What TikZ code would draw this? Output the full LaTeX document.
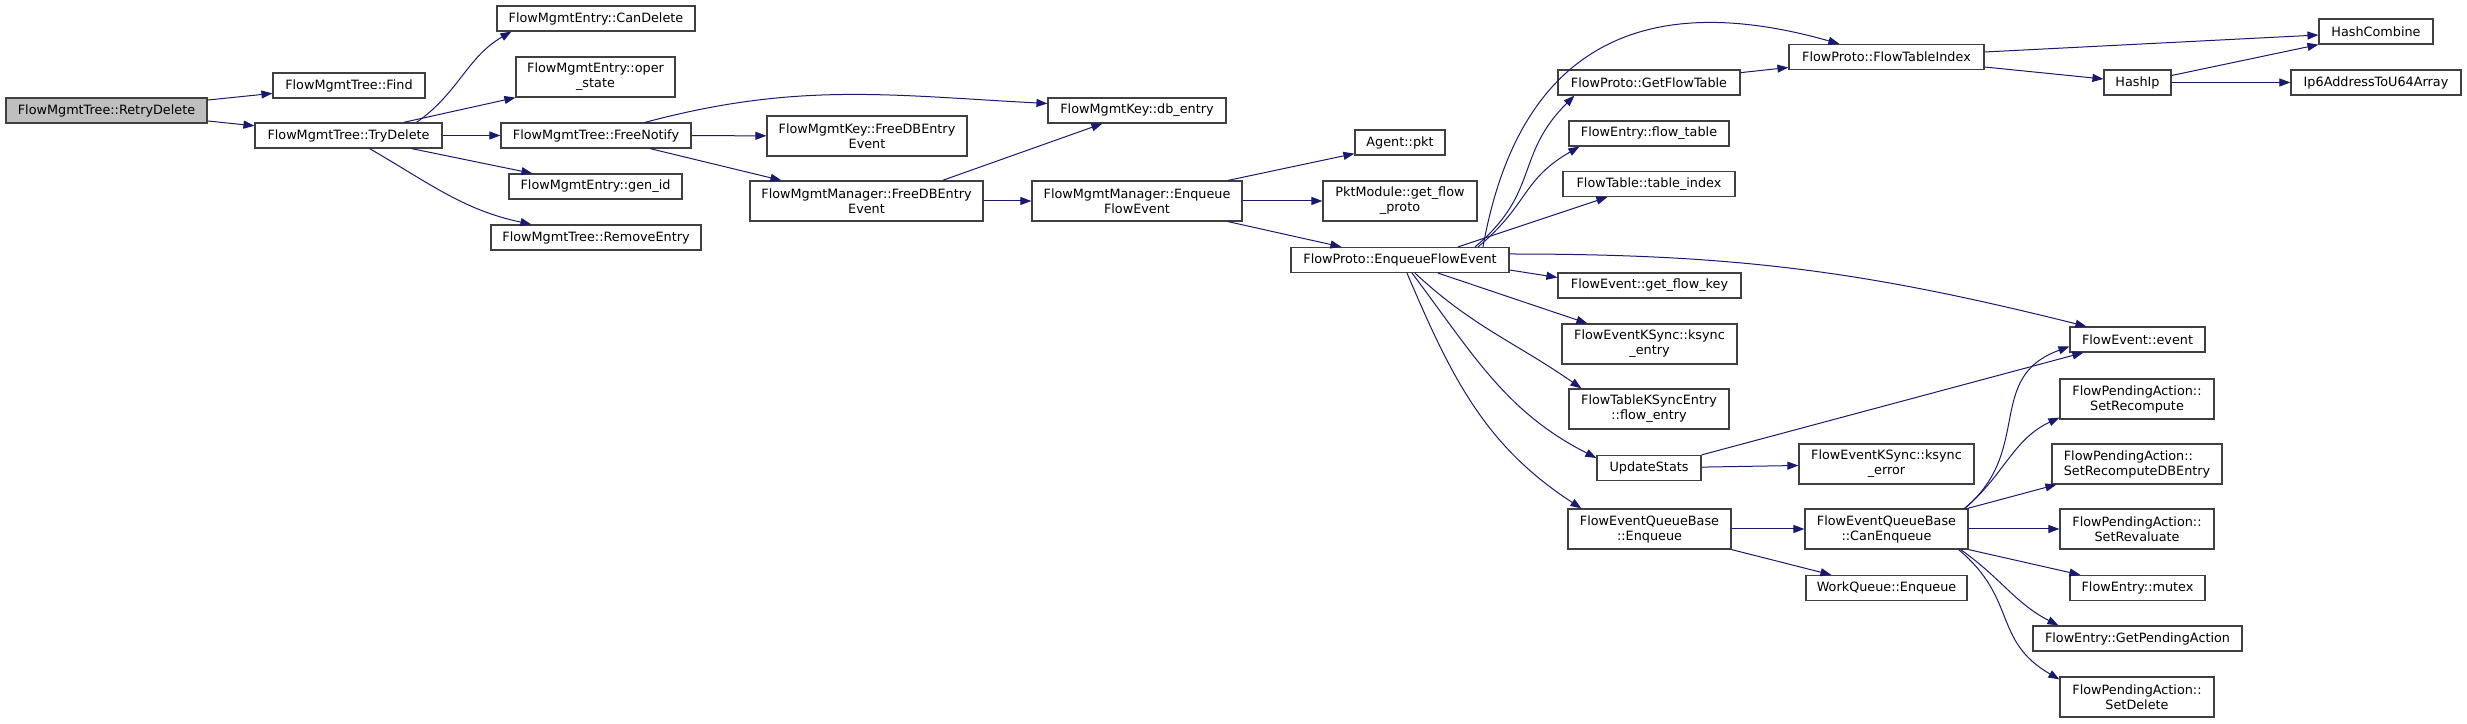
\documentclass[tikz,border=0pt]{standalone}
\usepackage{fontspec}
\setmainfont{DejaVu Sans}
\usetikzlibrary{arrows.meta}
\definecolor{edgeblue}{RGB}{25,25,112}
\definecolor{rootgray}{RGB}{191,191,191}
\definecolor{boxline}{RGB}{64,64,64}

\begin{document}
\begin{tikzpicture}[x=1pt,y=1pt,
  fn/.style={draw=boxline, line width=1.2pt, fill=white, inner sep=0pt,
    minimum height=25pt, align=center, font=\fontsize{12.8}{15}\selectfont},
  two/.style={minimum height=40pt},
  call/.style={draw=edgeblue, line width=1pt, -{Triangle[length=11pt,width=8pt]}}]
  \useasboundingbox (0,0) rectangle (2467,723);

  \node[fn, fill=rootgray, minimum width=201pt] (retry) at (106.5,612.5) {FlowMgmtTree::RetryDelete};
  \node[fn, minimum width=152pt] (find) at (349,637.5) {FlowMgmtTree::Find};
  \node[fn, minimum width=187pt] (try) at (348.5,587.5) {FlowMgmtTree::TryDelete};
  \node[fn, minimum width=198pt] (candel) at (596,704.5) {FlowMgmtEntry::CanDelete};
  \node[fn, two, minimum width=159pt] (oper) at (595.5,646) {FlowMgmtEntry::oper\\\_state};
  \node[fn, minimum width=190pt] (freenotify) at (596,587.5) {FlowMgmtTree::FreeNotify};
  \node[fn, minimum width=173pt] (genid) at (595.5,536.5) {FlowMgmtEntry::gen\_id};
  \node[fn, minimum width=210pt] (remove) at (596,485.5) {FlowMgmtTree::RemoveEntry};
  \node[fn, two, minimum width=200pt] (keyfree) at (867,587) {FlowMgmtKey::FreeDBEntry\\Event};
  \node[fn, two, minimum width=233pt] (mgrfree) at (866.5,522) {FlowMgmtManager::FreeDBEntry\\Event};
  \node[fn, minimum width=178pt] (dbentry) at (1137,612.5) {FlowMgmtKey::db\_entry};
  \node[fn, two, minimum width=210pt] (mgrenq) at (1137,522) {FlowMgmtManager::Enqueue\\FlowEvent};
  \node[fn, minimum width=90pt] (pkt) at (1400,580.5) {Agent::pkt};
  \node[fn, two, minimum width=154pt] (getproto) at (1400,522) {PktModule::get\_flow\\\_proto};
  \node[fn, minimum width=218pt] (fpenq) at (1400,463) {FlowProto::EnqueueFlowEvent};
  \node[fn, minimum width=182pt] (getflowtable) at (1649,640.5) {FlowProto::GetFlowTable};
  \node[fn, minimum width=195pt] (ftindex) at (1886.5,666) {FlowProto::FlowTableIndex};
  \node[fn, minimum width=160pt] (flowtable) at (1649,589.5) {FlowEntry::flow\_table};
  \node[fn, minimum width=172pt] (tableindex) at (1649,539) {FlowTable::table\_index};
  \node[fn, minimum width=183pt] (getflowkey) at (1649.5,437.5) {FlowEvent::get\_flow\_key};
  \node[fn, two, minimum width=175pt] (ksyncentry) at (1649.5,379) {FlowEventKSync::ksync\\\_entry};
  \node[fn, two, minimum width=160pt] (flowentry) at (1649,314) {FlowTableKSyncEntry\\::flow\_entry};
  \node[fn, minimum width=104pt] (updstats) at (1649,255) {UpdateStats};
  \node[fn, two, minimum width=175pt] (ksyncerr) at (1886.5,259) {FlowEventKSync::ksync\\\_error};
  \node[fn, two, minimum width=163pt] (feqbenq) at (1649.5,194) {FlowEventQueueBase\\::Enqueue};
  \node[fn, two, minimum width=163pt] (canenq) at (1886.5,194) {FlowEventQueueBase\\::CanEnqueue};
  \node[fn, minimum width=161pt] (wqenq) at (1886.5,135) {WorkQueue::Enqueue};
  \node[fn, minimum width=114pt] (hashcomb) at (2376,691.5) {HashCombine};
  \node[fn, minimum width=67pt] (haship) at (2137.5,640.5) {HashIp};
  \node[fn, minimum width=170pt] (ip6) at (2376,640.5) {Ip6AddressToU64Array};
  \node[fn, minimum width=135pt] (fevent) at (2137.5,383.5) {FlowEvent::event};
  \node[fn, two, minimum width=154pt] (setrecomp) at (2137,324) {FlowPendingAction::\\SetRecompute};
  \node[fn, two, minimum width=170pt, align=left] (setrecompdb) at (2137,259) {FlowPendingAction::\\SetRecomputeDBEntry};
  \node[fn, two, minimum width=154pt] (setreval) at (2137,194) {FlowPendingAction::\\SetRevaluate};
  \node[fn, minimum width=135pt] (mutex) at (2137.5,135) {FlowEntry::mutex};
  \node[fn, minimum width=209pt] (getpending) at (2137.5,84.5) {FlowEntry::GetPendingAction};
  \node[fn, two, minimum width=154pt] (setdelete) at (2137,26) {FlowPendingAction::\\SetDelete};

  \draw[call] (retry) -- (find);
  \draw[call] (retry) -- (try);
  \draw[call] ([xshift=68pt]try.north) to[out=35,in=210] ([xshift=15pt]candel.south west);
  \draw[call] ([xshift=55pt]try.north) -- (oper.south west);
  \draw[call] (try) -- (freenotify);
  \draw[call] ([xshift=63pt]try.south) -- ([xshift=24pt]genid.north west);
  \draw[call] ([xshift=21pt]try.south) to[out=-30,in=168] ([xshift=41pt]remove.north west);
  \draw[call] ([xshift=49pt]freenotify.north) to[out=15,in=177] ([yshift=7pt]dbentry.west);
  \draw[call] (freenotify) -- (keyfree);
  \draw[call] ([xshift=54pt]freenotify.south) -- ([xshift=32pt]mgrfree.north west);
  \draw[call] ([xshift=76pt]mgrfree.north) -- ([xshift=55pt]dbentry.south west);
  \draw[call] (mgrfree) -- (mgrenq);
  \draw[call] ([xshift=91pt]mgrenq.north) -- ([yshift=2pt]pkt.south west);
  \draw[call] (mgrenq) -- (getproto);
  \draw[call] ([xshift=91pt]mgrenq.south) -- ([xshift=51pt]fpenq.north west);

  \draw[call] ([xshift=83pt]fpenq.north) .. controls +(37,207) and +(-190,54) .. ([xshift=51pt]ftindex.north west);
  \draw[call] ([xshift=75pt]fpenq.north) to[out=40,in=225,looseness=1.2] ([xshift=17pt]getflowtable.south west);
  \draw[call] ([xshift=78pt]fpenq.north) to[out=40,in=210,looseness=1.2] ([xshift=11pt]flowtable.south west);
  \draw[call] ([xshift=58pt]fpenq.north) -- ([xshift=45pt]tableindex.south west);
  \draw[call] ([yshift=6pt]fpenq.east) to[out=0,in=166] ([xshift=17pt]fevent.north west);
  \draw[call] ([yshift=-10pt]fpenq.east) -- ([yshift=8pt]getflowkey.west);
  \draw[call] ([xshift=38pt]fpenq.south) -- ([xshift=26pt]ksyncentry.north west);
  \draw[call] ([xshift=15pt]fpenq.south) to[out=-43,in=145] ([xshift=13pt]flowentry.north west);
  \draw[call] ([xshift=12pt]fpenq.south) to[out=-53,in=153] ([yshift=10pt]updstats.west);
  \draw[call] ([xshift=7pt]fpenq.south) to[out=-67,in=147] ([xshift=14pt]feqbenq.north west);

  \draw[call] (getflowtable) -- (ftindex);
  \draw[call] ([yshift=5pt]ftindex.east) -- ([yshift=-3.5pt]hashcomb.west);
  \draw[call] ([yshift=-10pt]ftindex.east) -- ([yshift=3.5pt]haship.west);
  \draw[call] ([yshift=7pt]haship.east) -- (hashcomb.south west);
  \draw[call] (haship) -- (ip6);
  \draw[call] (updstats.north east) -- ([xshift=14pt]fevent.south west);
  \draw[call] (updstats) -- (ksyncerr);
  \draw[call] (feqbenq) -- (canenq);
  \draw[call] (feqbenq.south east) -- ([xshift=26pt]wqenq.north west);

  \draw[call] ([xshift=-4pt]canenq.north east) to[out=40,in=200,looseness=1.2] ([yshift=-7pt]fevent.west);
  \draw[call] ([xshift=-4pt]canenq.north east) to[out=40,in=205] ([yshift=2pt]setrecomp.south west);
  \draw[call] ([xshift=-1pt]canenq.north east) -- ([xshift=5pt]setrecompdb.south west);
  \draw[call] (canenq) -- (setreval);
  \draw[call] (canenq.south east) -- ([xshift=11pt]mutex.north west);
  \draw[call] ([xshift=-8pt]canenq.south east) to[out=-35,in=153] ([xshift=26pt]getpending.north west);
  \draw[call] ([xshift=-10pt]canenq.south east) to[out=-40,in=150,looseness=1.2] ([yshift=-3pt]setdelete.north west);
\end{tikzpicture}
\end{document}
